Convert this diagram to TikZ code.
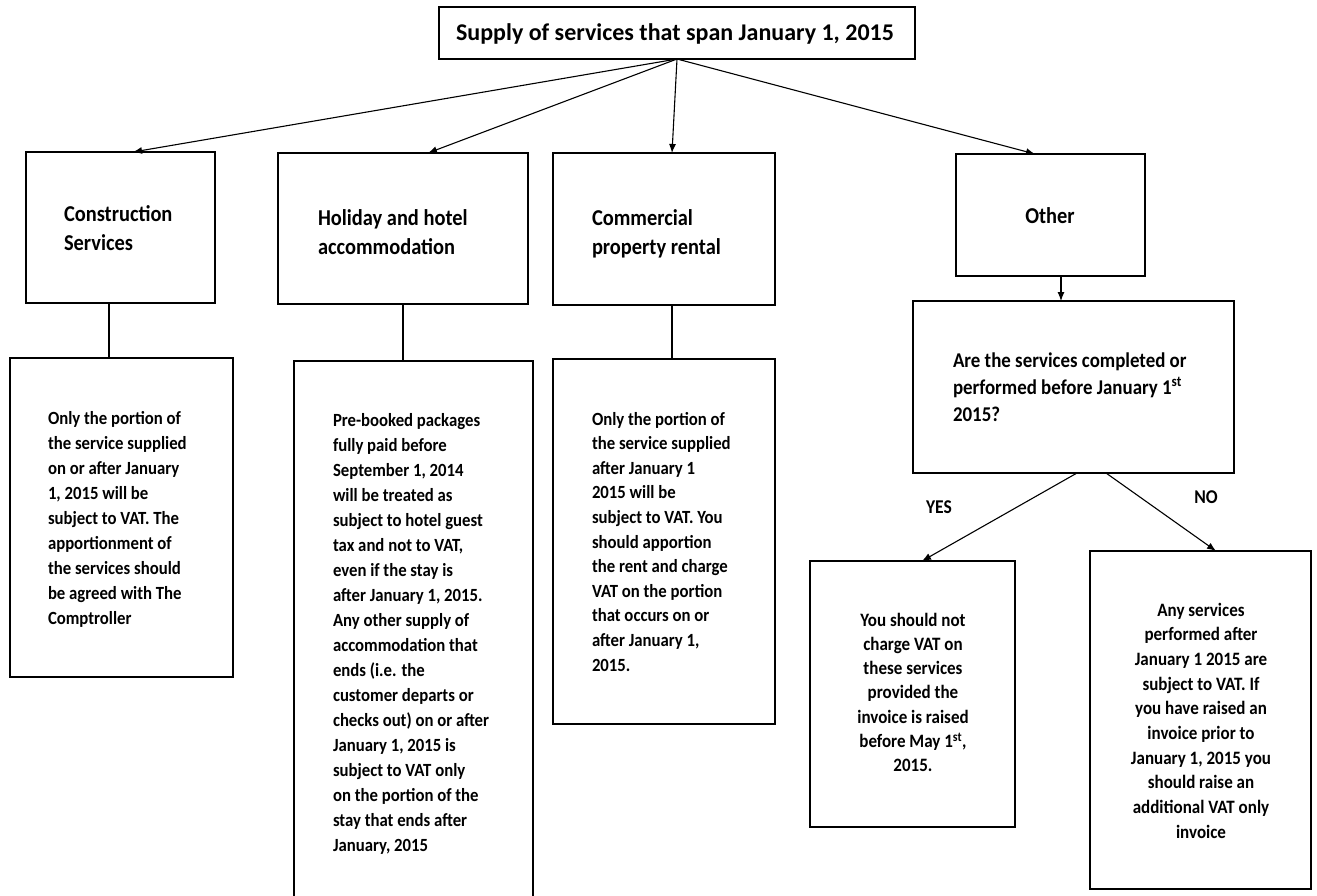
\documentclass[tikz,border=0pt]{standalone}
\usepackage{fontspec}
\setmainfont{Carlito}[FakeStretch=0.9]
\newfontfamily\titlefont{Carlito}
\usetikzlibrary{arrows.meta,calc}
\tikzset{
  box/.style={draw, line width=2.6pt, inner sep=0pt, outer sep=0pt},
  thinbox/.style={draw, line width=1.3pt, inner sep=0pt, outer sep=0pt},
  conn/.style={line width=1.1pt, -{Latex[length=9pt,width=7pt]}},
  plainline/.style={line width=1.1pt},
  txtL/.style={inner sep=0pt, outer sep=0pt, anchor=base west, font=\bfseries},
  txtC/.style={inner sep=0pt, outer sep=0pt, anchor=base, font=\bfseries},
}
\newcommand\headL[1]{\parbox[t]{200pt}{\raggedright\fontsize{22.7}{29}\selectfont #1}}
\newcommand\bodyL[2]{\parbox[t]{220pt}{\raggedright\fontsize{18.6}{#1}\selectfont #2}}
\newcommand\bodyC[2]{\parbox[t]{220pt}{\centering\fontsize{18.9}{#1}\selectfont #2}}
\begin{document}
\begin{tikzpicture}[x=1pt,y=-1pt]
\clip (0,0) rectangle (1317,895);
\fill[white] (0,0) rectangle (1317,895);

% boxes
\node[thinbox, minimum width=476pt, minimum height=52pt] (title) at (677,33) {};
\node[box, minimum width=189pt, minimum height=151pt] (cons) at (120.5,227.5) {};
\node[box, minimum width=250pt, minimum height=151pt] (hol) at (403,228.5) {};
\node[box, minimum width=222pt, minimum height=152pt] (com) at (664,229) {};
\node[box, minimum width=189pt, minimum height=122pt] (other) at (1050.5,215) {};
\node[box, minimum width=321pt, minimum height=172pt] (q) at (1073.5,387) {};
\node[box, minimum width=223pt, minimum height=319pt] (consd) at (121.5,517.5) {};
\node[box, minimum width=239pt, minimum height=549pt] (hold) at (413.5,635.5) {};
\node[box, minimum width=222pt, minimum height=365pt] (comd) at (664,541.5) {};
\node[box, minimum width=205pt, minimum height=266pt] (yes) at (912.5,694) {};
\node[box, minimum width=221pt, minimum height=338pt] (no) at (1200.5,720) {};

% texts
\node[txtC] (titleT) at (675,40) {\titlefont\bfseries\fontsize{24}{28}\selectfont Supply of services that span January 1, 2015};
\node[txtL] (consT) at (64,221) {\headL{Construction\\Services}};
\node[txtL] (holT) at (318,225) {\headL{Holiday and hotel\\accommodation}};
\node[txtL] (comT) at (592,225) {\headL{Commercial\\property rental}};
\node[txtC] (otherT) at (1050,223) {\fontsize{22.7}{29}\selectfont Other};
\node[txtL] (qT) at (953,367) {\parbox[t]{280pt}{\raggedright\fontsize{21}{27}\selectfont Are the services completed or\\performed before January 1\textsuperscript{st}\\2015?}};

\node[txtL] (consdT) at (48,424) {\bodyL{25.1}{Only the portion of\\the service supplied\\on or after January\\1, 2015 will be\\subject to VAT. The\\apportionment of\\the services should\\be agreed with The\\Comptroller}};
\node[txtL] (holdT) at (333,426) {\bodyL{25}{Pre-booked packages\\fully paid before\\September 1, 2014\\will be treated as\\subject to hotel guest\\tax and not to VAT,\\even if the stay is\\after January 1, 2015.\\Any other supply of\\accommodation that\\ends (i.e. the\\customer departs or\\checks out) on or after\\January 1, 2015 is\\subject to VAT only\\on the portion of the\\stay that ends after\\January, 2015}};
\node[txtL] (comdT) at (592,425) {\bodyL{24.6}{Only the portion of\\the service supplied\\after January 1\\2015 will be\\subject to VAT. You\\should apportion\\the rent and charge\\VAT on the portion\\that occurs on or\\after January 1,\\2015.}};
\node[txtC] (yesT) at (913,626) {\bodyC{24.3}{You should not\\charge VAT on\\these services\\provided the\\invoice is raised\\before May 1\textsuperscript{st},\\2015.}};
\node[txtC] (noT) at (1201,616) {\bodyC{24.7}{Any services\\performed after\\January 1 2015 are\\subject to VAT. If\\you have raised an\\invoice prior to\\January 1, 2015 you\\should raise an\\additional VAT only\\invoice}};
\node[txtC] (yesL) at (939,513) {\fontsize{19.5}{22}\selectfont YES};
\node[txtC] (noL) at (1206,503) {\fontsize{19.5}{22}\selectfont NO};

% connectors
\draw[conn] (title.south) -- ([xshift=12.5pt]cons.north);
\draw[conn] (title.south) -- ([xshift=25pt]hol.north);
\draw[conn] (title.south) -- ([xshift=8pt]com.north);
\draw[conn] (title.south) -- ([xshift=-15.5pt]other.north);
\draw[plainline] ([xshift=-11.5pt]cons.south) -- ([xshift=-11.5pt]cons.south |- consd.north);
\draw[plainline] (hol.south) -- (hol.south |- hold.north);
\draw[plainline] ([xshift=8pt]com.south) -- ([xshift=8pt]com.south |- comd.north);
\draw[conn] ([xshift=10.5pt]other.south) -- ([xshift=10.5pt]other.south |- q.north);
\draw[conn] ([xshift=3.5pt]q.south) -- ([xshift=9.5pt]yes.north);
\draw[conn] ([xshift=32.5pt]q.south) -- ([xshift=15.5pt]no.north);
\end{tikzpicture}
\end{document}
